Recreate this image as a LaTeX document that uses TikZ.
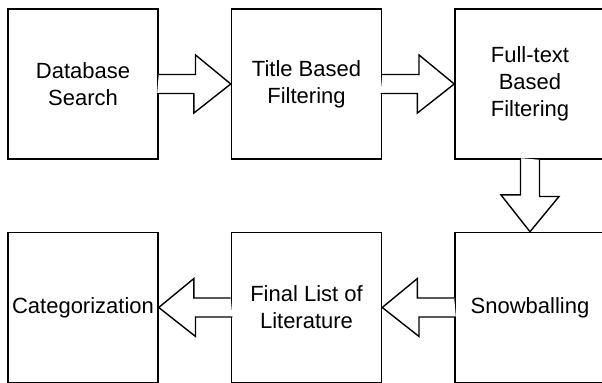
\documentclass[tikz,border=0pt]{standalone}
\usepackage{fontspec}
\setmainfont{Liberation Sans}
\usepackage{tikz}
\usetikzlibrary{positioning,calc}
\tikzset{
  box/.style={draw, rectangle, line width=0.75pt, minimum width=75pt, minimum height=75pt, align=center, inner sep=1pt, font=\fontsize{11pt}{13.5pt}\selectfont},
  hollow/.style={draw, line width=0.7pt, fill=white, line join=miter},
}
\begin{document}
\begin{tikzpicture}[node distance=36pt and 36pt]
\useasboundingbox (-41.5pt,42pt) rectangle ++(301pt,-191.5pt);
% upper row
\node[box] (db) at (0,0) {Database\\Search};
\node[box, right=of db] (title) {Title Based\\Filtering};
\node[box, right=of title] (full) {Full-text\\Based\\Filtering};
% lower row
\node[box, below=of full] (snow) {Snowballing};
\node[box, left=of snow] (final) {Final List of\\Literature};
\node[box, left=of final] (cat) {Categorization};
% block arrows
\draw[hollow] (db.east) ++(0,4.75pt) -- ++(18.4pt,0) -- ++(0,9.75pt) -- (title.west) -- ++(-18.4pt,-14.5pt) -- ++(0,9.75pt) -- ++(-18.4pt,0);
\draw[hollow] (title.east) ++(0,4.75pt) -- ++(18.4pt,0) -- ++(0,9.75pt) -- (full.west) -- ++(-18.4pt,-14.5pt) -- ++(0,9.75pt) -- ++(-18.4pt,0);
\draw[hollow] (full.south) ++(4.75pt,0) -- ++(0,-18.4pt) -- ++(9.75pt,0) -- (snow.north) -- ++(-14.5pt,18.4pt) -- ++(9.75pt,0) -- ++(0,18.4pt);
\draw[hollow] (snow.west) ++(0,4.75pt) -- ++(-18.4pt,0) -- ++(0,9.75pt) -- (final.east) -- ++(18.4pt,-14.5pt) -- ++(0,9.75pt) -- ++(18.4pt,0);
\draw[hollow] (final.west) ++(0,4.75pt) -- ++(-18.4pt,0) -- ++(0,9.75pt) -- (cat.east) -- ++(18.4pt,-14.5pt) -- ++(0,9.75pt) -- ++(18.4pt,0);
\end{tikzpicture}
\end{document}
